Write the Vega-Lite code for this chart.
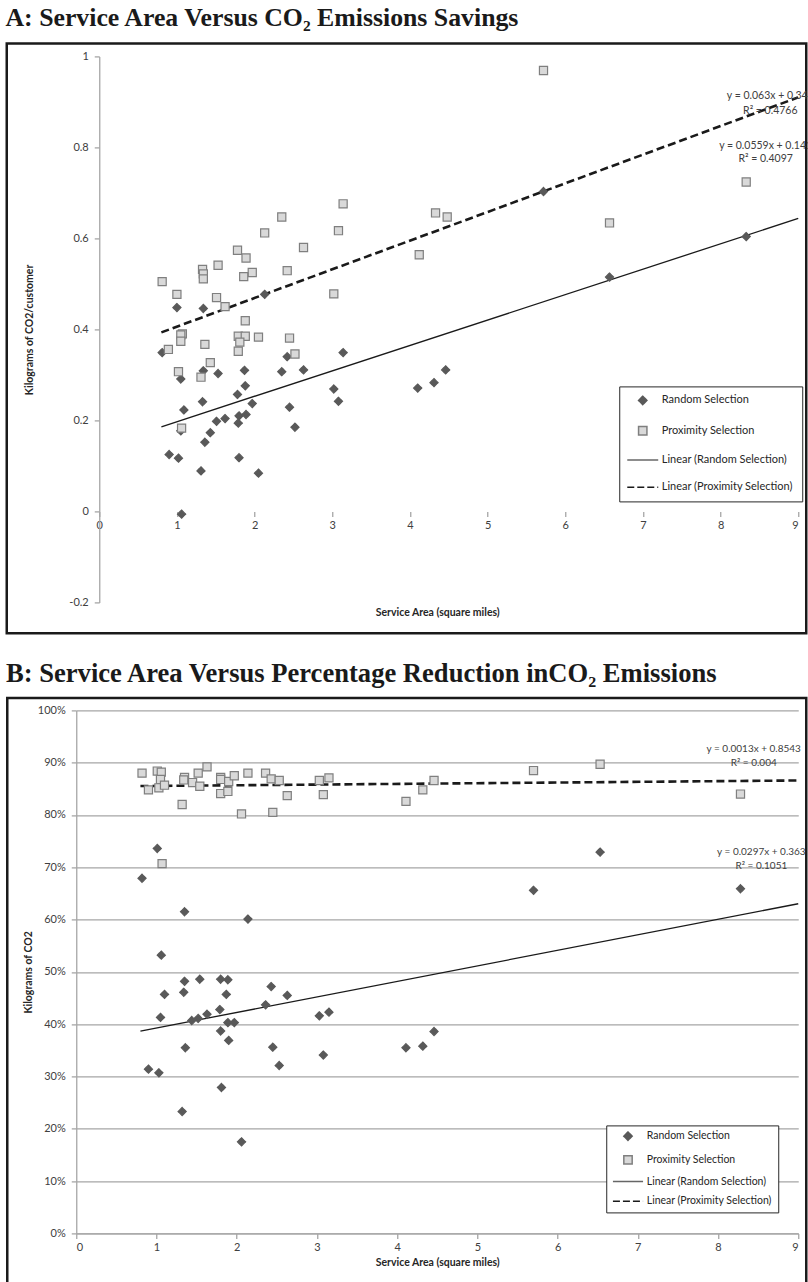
{
  "$schema": "https://vega.github.io/schema/vega-lite/v6.json",
  "background": "white",
  "padding": {"left": 5.25, "top": 4.4, "right": 0, "bottom": 0},
  "columns": 1,
  "align": "none",
  "spacing": 25,
  "config": {
    "view": {"stroke": null},
    "font": "Lato",
    "axis": {"labelFont": "Lato", "labelColor": "#404040", "labelFontSize": 11, "titleFont": "Lato", "titleColor": "#262626", "titleFontWeight": "bold", "titleFontSize": 10.5, "gridColor": "#a6a6a6", "gridWidth": 1.3, "domainColor": "#a6a6a6", "domainWidth": 1.3, "tickColor": "#a6a6a6", "tickWidth": 1.3, "tickSize": 5},
    "legend": {"labelFont": "Lato", "labelColor": "#262626", "strokeColor": "#262626", "fillColor": "white"}
  },
  "resolve": {
    "scale": {"shape": "independent", "fill": "independent", "stroke": "independent", "strokeDash": "independent"},
    "legend": {"shape": "independent", "fill": "independent", "stroke": "independent", "strokeDash": "independent"}
  },
  "datasets": {
    "gridA": [{"y": -0.2}, {"y": 0}, {"y": 0.2}, {"y": 0.4}, {"y": 0.6}, {"y": 0.8}, {"y": 1}],
    "ptsA": [
      {"x": 1.00, "y": 0.448, "series": "Random Selection"}, {"x": 1.34, "y": 0.446, "series": "Random Selection"}, {"x": 2.13, "y": 0.477, "series": "Random Selection"}, {"x": 3.14, "y": 0.349, "series": "Random Selection"}, {"x": 0.81, "y": 0.349, "series": "Random Selection"}, {"x": 2.42, "y": 0.340, "series": "Random Selection"}, {"x": 1.87, "y": 0.310, "series": "Random Selection"}, {"x": 1.34, "y": 0.309, "series": "Random Selection"}, {"x": 1.53, "y": 0.303, "series": "Random Selection"}, {"x": 2.35, "y": 0.307, "series": "Random Selection"}, {"x": 2.63, "y": 0.311, "series": "Random Selection"}, {"x": 1.05, "y": 0.291, "series": "Random Selection"}, {"x": 1.88, "y": 0.276, "series": "Random Selection"}, {"x": 1.78, "y": 0.257, "series": "Random Selection"}, {"x": 3.02, "y": 0.269, "series": "Random Selection"}, {"x": 3.08, "y": 0.242, "series": "Random Selection"}, {"x": 1.33, "y": 0.241, "series": "Random Selection"}, {"x": 1.97, "y": 0.237, "series": "Random Selection"}, {"x": 1.09, "y": 0.223, "series": "Random Selection"}, {"x": 2.45, "y": 0.229, "series": "Random Selection"}, {"x": 1.80, "y": 0.210, "series": "Random Selection"}, {"x": 1.89, "y": 0.213, "series": "Random Selection"}, {"x": 1.51, "y": 0.198, "series": "Random Selection"}, {"x": 1.62, "y": 0.204, "series": "Random Selection"}, {"x": 1.79, "y": 0.194, "series": "Random Selection"}, {"x": 2.52, "y": 0.185, "series": "Random Selection"}, {"x": 1.05, "y": 0.177, "series": "Random Selection"}, {"x": 1.43, "y": 0.173, "series": "Random Selection"}, {"x": 1.36, "y": 0.152, "series": "Random Selection"}, {"x": 0.90, "y": 0.125, "series": "Random Selection"}, {"x": 1.02, "y": 0.117, "series": "Random Selection"}, {"x": 1.80, "y": 0.118, "series": "Random Selection"}, {"x": 1.31, "y": 0.089, "series": "Random Selection"}, {"x": 2.05, "y": 0.084, "series": "Random Selection"}, {"x": 1.06, "y": -0.006, "series": "Random Selection"}, {"x": 4.10, "y": 0.271, "series": "Random Selection"}, {"x": 4.31, "y": 0.283, "series": "Random Selection"}, {"x": 4.46, "y": 0.311, "series": "Random Selection"}, {"x": 5.72, "y": 0.703, "series": "Random Selection"}, {"x": 6.57, "y": 0.515, "series": "Random Selection"}, {"x": 8.33, "y": 0.604, "series": "Random Selection"},
      {"x": 3.14, "y": 0.676, "series": "Proximity Selection"}, {"x": 2.35, "y": 0.647, "series": "Proximity Selection"}, {"x": 2.13, "y": 0.612, "series": "Proximity Selection"}, {"x": 3.08, "y": 0.617, "series": "Proximity Selection"}, {"x": 2.63, "y": 0.580, "series": "Proximity Selection"}, {"x": 1.78, "y": 0.574, "series": "Proximity Selection"}, {"x": 1.89, "y": 0.557, "series": "Proximity Selection"}, {"x": 1.53, "y": 0.541, "series": "Proximity Selection"}, {"x": 1.33, "y": 0.532, "series": "Proximity Selection"}, {"x": 1.34, "y": 0.522, "series": "Proximity Selection"}, {"x": 1.34, "y": 0.511, "series": "Proximity Selection"}, {"x": 1.97, "y": 0.525, "series": "Proximity Selection"}, {"x": 1.86, "y": 0.516, "series": "Proximity Selection"}, {"x": 2.42, "y": 0.529, "series": "Proximity Selection"}, {"x": 0.81, "y": 0.505, "series": "Proximity Selection"}, {"x": 1.00, "y": 0.477, "series": "Proximity Selection"}, {"x": 1.51, "y": 0.470, "series": "Proximity Selection"}, {"x": 1.62, "y": 0.450, "series": "Proximity Selection"}, {"x": 3.02, "y": 0.478, "series": "Proximity Selection"}, {"x": 1.88, "y": 0.419, "series": "Proximity Selection"}, {"x": 1.07, "y": 0.390, "series": "Proximity Selection"}, {"x": 1.05, "y": 0.388, "series": "Proximity Selection"}, {"x": 1.05, "y": 0.374, "series": "Proximity Selection"}, {"x": 1.79, "y": 0.385, "series": "Proximity Selection"}, {"x": 1.88, "y": 0.385, "series": "Proximity Selection"}, {"x": 1.81, "y": 0.372, "series": "Proximity Selection"}, {"x": 2.05, "y": 0.383, "series": "Proximity Selection"}, {"x": 2.45, "y": 0.381, "series": "Proximity Selection"}, {"x": 0.89, "y": 0.356, "series": "Proximity Selection"}, {"x": 1.36, "y": 0.367, "series": "Proximity Selection"}, {"x": 1.79, "y": 0.352, "series": "Proximity Selection"}, {"x": 2.52, "y": 0.346, "series": "Proximity Selection"}, {"x": 1.43, "y": 0.327, "series": "Proximity Selection"}, {"x": 1.02, "y": 0.307, "series": "Proximity Selection"}, {"x": 1.31, "y": 0.295, "series": "Proximity Selection"}, {"x": 1.06, "y": 0.183, "series": "Proximity Selection"}, {"x": 5.72, "y": 0.969, "series": "Proximity Selection"}, {"x": 4.33, "y": 0.656, "series": "Proximity Selection"}, {"x": 4.48, "y": 0.647, "series": "Proximity Selection"}, {"x": 4.12, "y": 0.564, "series": "Proximity Selection"}, {"x": 6.57, "y": 0.634, "series": "Proximity Selection"}, {"x": 8.33, "y": 0.724, "series": "Proximity Selection"}
    ],
    "trendA": [
      {"x": 0.8, "y": 0.186, "series": "Linear (Random Selection)"}, {"x": 9, "y": 0.644, "series": "Linear (Random Selection)"},
      {"x": 0.8, "y": 0.3934, "series": "Linear (Proximity Selection)"}, {"x": 9, "y": 0.910, "series": "Linear (Proximity Selection)"}
    ],
    "eqA": [
      {"x": 8.64, "y": 0.914, "label": "y = 0.063x + 0.343"}, {"x": 8.64, "y": 0.881, "label": "R² = 0.4766"},
      {"x": 8.58, "y": 0.804, "label": "y = 0.0559x + 0.141"}, {"x": 8.58, "y": 0.774, "label": "R² = 0.4097"}
    ],
    "frameA": [{"x": -1.191, "x2": 9.103, "y": -0.268, "y2": 1.0286}],
    "ptsB": [
      {"x": 0.82, "y": 0.679, "series": "Random Selection"}, {"x": 1.01, "y": 0.736, "series": "Random Selection"}, {"x": 1.35, "y": 0.615, "series": "Random Selection"}, {"x": 2.14, "y": 0.601, "series": "Random Selection"}, {"x": 1.06, "y": 0.532, "series": "Random Selection"}, {"x": 1.05, "y": 0.413, "series": "Random Selection"}, {"x": 1.10, "y": 0.457, "series": "Random Selection"}, {"x": 0.90, "y": 0.314, "series": "Random Selection"}, {"x": 1.03, "y": 0.307, "series": "Random Selection"}, {"x": 1.35, "y": 0.482, "series": "Random Selection"}, {"x": 1.34, "y": 0.461, "series": "Random Selection"}, {"x": 1.36, "y": 0.355, "series": "Random Selection"}, {"x": 1.32, "y": 0.233, "series": "Random Selection"}, {"x": 1.54, "y": 0.486, "series": "Random Selection"}, {"x": 1.44, "y": 0.407, "series": "Random Selection"}, {"x": 1.52, "y": 0.411, "series": "Random Selection"}, {"x": 1.63, "y": 0.419, "series": "Random Selection"}, {"x": 1.80, "y": 0.486, "series": "Random Selection"}, {"x": 1.89, "y": 0.485, "series": "Random Selection"}, {"x": 1.87, "y": 0.457, "series": "Random Selection"}, {"x": 1.79, "y": 0.428, "series": "Random Selection"}, {"x": 1.80, "y": 0.387, "series": "Random Selection"}, {"x": 1.89, "y": 0.403, "series": "Random Selection"}, {"x": 1.97, "y": 0.403, "series": "Random Selection"}, {"x": 1.90, "y": 0.369, "series": "Random Selection"}, {"x": 1.81, "y": 0.279, "series": "Random Selection"}, {"x": 2.06, "y": 0.175, "series": "Random Selection"}, {"x": 2.36, "y": 0.437, "series": "Random Selection"}, {"x": 2.43, "y": 0.472, "series": "Random Selection"}, {"x": 2.45, "y": 0.356, "series": "Random Selection"}, {"x": 2.53, "y": 0.321, "series": "Random Selection"}, {"x": 2.63, "y": 0.455, "series": "Random Selection"}, {"x": 3.03, "y": 0.416, "series": "Random Selection"}, {"x": 3.15, "y": 0.423, "series": "Random Selection"}, {"x": 3.08, "y": 0.341, "series": "Random Selection"}, {"x": 4.11, "y": 0.355, "series": "Random Selection"}, {"x": 4.32, "y": 0.358, "series": "Random Selection"}, {"x": 4.46, "y": 0.386, "series": "Random Selection"}, {"x": 5.70, "y": 0.656, "series": "Random Selection"}, {"x": 6.53, "y": 0.729, "series": "Random Selection"}, {"x": 8.28, "y": 0.659, "series": "Random Selection"},
      {"x": 0.82, "y": 0.880, "series": "Proximity Selection"}, {"x": 0.90, "y": 0.848, "series": "Proximity Selection"}, {"x": 1.01, "y": 0.884, "series": "Proximity Selection"}, {"x": 1.06, "y": 0.882, "series": "Proximity Selection"}, {"x": 1.05, "y": 0.868, "series": "Proximity Selection"}, {"x": 1.03, "y": 0.852, "series": "Proximity Selection"}, {"x": 1.10, "y": 0.857, "series": "Proximity Selection"}, {"x": 1.07, "y": 0.707, "series": "Proximity Selection"}, {"x": 1.32, "y": 0.820, "series": "Proximity Selection"}, {"x": 1.35, "y": 0.872, "series": "Proximity Selection"}, {"x": 1.34, "y": 0.867, "series": "Proximity Selection"}, {"x": 1.45, "y": 0.862, "series": "Proximity Selection"}, {"x": 1.52, "y": 0.880, "series": "Proximity Selection"}, {"x": 1.54, "y": 0.855, "series": "Proximity Selection"}, {"x": 1.63, "y": 0.892, "series": "Proximity Selection"}, {"x": 1.80, "y": 0.872, "series": "Proximity Selection"}, {"x": 1.80, "y": 0.868, "series": "Proximity Selection"}, {"x": 1.80, "y": 0.841, "series": "Proximity Selection"}, {"x": 1.90, "y": 0.864, "series": "Proximity Selection"}, {"x": 1.89, "y": 0.845, "series": "Proximity Selection"}, {"x": 1.97, "y": 0.875, "series": "Proximity Selection"}, {"x": 2.06, "y": 0.802, "series": "Proximity Selection"}, {"x": 2.14, "y": 0.880, "series": "Proximity Selection"}, {"x": 2.36, "y": 0.880, "series": "Proximity Selection"}, {"x": 2.43, "y": 0.869, "series": "Proximity Selection"}, {"x": 2.53, "y": 0.866, "series": "Proximity Selection"}, {"x": 2.45, "y": 0.805, "series": "Proximity Selection"}, {"x": 2.63, "y": 0.837, "series": "Proximity Selection"}, {"x": 3.03, "y": 0.866, "series": "Proximity Selection"}, {"x": 3.15, "y": 0.871, "series": "Proximity Selection"}, {"x": 3.08, "y": 0.839, "series": "Proximity Selection"}, {"x": 4.11, "y": 0.826, "series": "Proximity Selection"}, {"x": 4.32, "y": 0.848, "series": "Proximity Selection"}, {"x": 4.46, "y": 0.866, "series": "Proximity Selection"}, {"x": 5.70, "y": 0.885, "series": "Proximity Selection"}, {"x": 6.53, "y": 0.897, "series": "Proximity Selection"}, {"x": 8.28, "y": 0.840, "series": "Proximity Selection"}
    ],
    "trendB": [
      {"x": 0.8, "y": 0.3868, "series": "Linear (Random Selection)"}, {"x": 9, "y": 0.6303, "series": "Linear (Random Selection)"},
      {"x": 0.8, "y": 0.8553, "series": "Linear (Proximity Selection)"}, {"x": 9, "y": 0.8660, "series": "Linear (Proximity Selection)"}
    ],
    "eqB": [
      {"x": 8.445, "y": 0.927, "label": "y = 0.0013x + 0.8543"}, {"x": 8.445, "y": 0.899, "label": "R² = 0.004"},
      {"x": 8.54, "y": 0.7285, "label": "y = 0.0297x + 0.363"}, {"x": 8.54, "y": 0.7017, "label": "R² = 0.1051"}
    ],
    "frameB": [{"x": -0.860, "x2": 9.10, "y": -0.0956, "y2": 1.0239}]
  },
  "concat": [
    {
      "width": 722,
      "height": 546,
      "title": {"text": "A: Service Area Versus CO₂ Emissions Savings", "anchor": "start", "frame": "bounds", "font": "Liberation Serif", "fontSize": 25.8, "fontWeight": "bold", "color": "#1a1a1a", "baseline": "alphabetic", "offset": -10},
      "encoding": {
        "x": {"field": "x", "type": "quantitative", "scale": {"domain": [-0.2961, 9], "nice": false, "zero": false},
          "axis": {"title": "Service Area (square miles)", "values": [0, 1, 2, 3, 4, 5, 6, 7, 8, 9], "offset": -91, "grid": false, "domain": false, "labelPadding": 3, "titleY": 101, "titleBaseline": "middle"}},
        "y": {"field": "y", "type": "quantitative", "scale": {"domain": [-0.2, 1], "nice": false, "zero": false},
          "axis": {"title": "Kilograms of CO2/customer", "values": [-0.2, 0, 0.2, 0.4, 0.6, 0.8, 1], "labelExpr": "toString(round(datum.value*10)/10)", "grid": false, "offset": -23, "labelPadding": 6, "titleX": -70, "titleBaseline": "middle"}}
      },
      "layer": [
        {
          "data": {"name": "frameA"},
          "mark": {"type": "rect", "fill": "transparent", "stroke": "#1a1a1a", "strokeWidth": 2.5},
          "encoding": {"x2": {"field": "x2"}, "y2": {"field": "y2"}}
        },
        {
          "data": {"name": "gridA"},
          "mark": {"type": "rule", "color": "#a6a6a6", "strokeWidth": 1.3},
          "encoding": {"x": {"datum": 0}, "x2": {"datum": 9}}
        },
        {
          "data": {"name": "trendA"},
          "transform": [{"filter": "datum.series === 'Linear (Random Selection)'"}],
          "mark": {"type": "line", "stroke": "#1a1a1a", "strokeWidth": 1.3},
          "encoding": {}
        },
        {
          "data": {"name": "trendA"},
          "transform": [{"filter": "datum.series === 'Linear (Proximity Selection)'"}],
          "mark": {"type": "line", "stroke": "#1a1a1a", "strokeWidth": 2.6, "strokeDash": [8, 4]},
          "encoding": {}
        },
        {
          "data": {"name": "ptsA"},
          "mark": {"type": "point", "filled": true, "size": 66, "strokeWidth": 1.2, "opacity": 1},
          "encoding": {
            "shape": {"field": "series", "type": "nominal", "scale": {"domain": ["Random Selection", "Proximity Selection", "Linear (Random Selection)", "Linear (Proximity Selection)"], "range": ["diamond", "square", "M-3.7,0H3.7", "M-3.7,0H3.7"]},
              "legend": {"orient": "none", "legendX": 543, "legendY": 330, "title": null, "padding": 8.5, "rowPadding": 15.3, "symbolSize": 70, "symbolStrokeWidth": 1.5, "symbolOffset": 9.5, "labelOffset": 13.5, "labelFontSize": 11}},
            "fill": {"field": "series", "type": "nominal", "scale": {"domain": ["Random Selection", "Proximity Selection", "Linear (Random Selection)", "Linear (Proximity Selection)"], "range": ["#595959", "#d9d9d9", "transparent", "transparent"]},
              "legend": {"orient": "none", "legendX": 543, "legendY": 330, "title": null, "padding": 8.5, "rowPadding": 15.3, "symbolSize": 70, "symbolStrokeWidth": 1.5, "symbolOffset": 9.5, "labelOffset": 13.5, "labelFontSize": 11}},
            "stroke": {"field": "series", "type": "nominal", "scale": {"domain": ["Random Selection", "Proximity Selection", "Linear (Random Selection)", "Linear (Proximity Selection)"], "range": ["#595959", "#7f7f7f", "#666666", "#1a1a1a"]},
              "legend": {"orient": "none", "legendX": 543, "legendY": 330, "title": null, "padding": 8.5, "rowPadding": 15.3, "symbolSize": 70, "symbolStrokeWidth": 1.5, "symbolOffset": 9.5, "labelOffset": 13.5, "labelFontSize": 11}},
            "strokeDash": {"field": "series", "type": "nominal", "scale": {"domain": ["Random Selection", "Proximity Selection", "Linear (Random Selection)", "Linear (Proximity Selection)"], "range": [[1, 0], [1, 0], [1, 0], [7, 3]]},
              "legend": {"orient": "none", "legendX": 543, "legendY": 330, "title": null, "padding": 8.5, "rowPadding": 15.3, "symbolSize": 70, "symbolStrokeWidth": 1.5, "symbolOffset": 9.5, "labelOffset": 13.5, "labelFontSize": 11}}
          }
        },
        {
          "data": {"name": "eqA"},
          "mark": {"type": "text", "font": "Lato", "fontSize": 10.5, "color": "#404040", "align": "center", "baseline": "middle"},
          "encoding": {"text": {"field": "label"}}
        }
      ]
    },
    {
      "width": 722,
      "height": 523,
      "title": {"text": "B: Service Area Versus Percentage Reduction inCO₂ Emissions", "anchor": "start", "frame": "bounds", "font": "Liberation Serif", "fontSize": 26.6, "fontWeight": "bold", "color": "#1a1a1a", "baseline": "alphabetic", "offset": -12},
      "encoding": {
        "x": {"field": "x", "type": "quantitative", "scale": {"domain": [0, 9], "nice": false, "zero": false},
          "axis": {"title": "Service Area (square miles)", "values": [0, 1, 2, 3, 4, 5, 6, 7, 8, 9], "grid": false, "labelPadding": 3, "titlePadding": 5}},
        "y": {"field": "y", "type": "quantitative", "scale": {"domain": [0, 1], "nice": false, "zero": false},
          "axis": {"title": "Kilograms of CO2", "values": [0, 0.1, 0.2, 0.3, 0.4, 0.5, 0.6, 0.7, 0.8, 0.9, 1], "format": ".0%", "grid": true, "labelPadding": 6, "titleX": -48, "titleBaseline": "middle"}}
      },
      "layer": [
        {
          "data": {"name": "frameB"},
          "mark": {"type": "rect", "fill": "transparent", "stroke": "#1a1a1a", "strokeWidth": 2.5},
          "encoding": {"x2": {"field": "x2"}, "y2": {"field": "y2"}}
        },
        {
          "data": {"name": "trendB"},
          "transform": [{"filter": "datum.series === 'Linear (Random Selection)'"}],
          "mark": {"type": "line", "stroke": "#1a1a1a", "strokeWidth": 1.3},
          "encoding": {}
        },
        {
          "data": {"name": "trendB"},
          "transform": [{"filter": "datum.series === 'Linear (Proximity Selection)'"}],
          "mark": {"type": "line", "stroke": "#1a1a1a", "strokeWidth": 2.6, "strokeDash": [8, 4]},
          "encoding": {}
        },
        {
          "data": {"name": "ptsB"},
          "mark": {"type": "point", "filled": true, "size": 66, "strokeWidth": 1.2, "opacity": 1},
          "encoding": {
            "shape": {"field": "series", "type": "nominal", "scale": {"domain": ["Random Selection", "Proximity Selection", "Linear (Random Selection)", "Linear (Proximity Selection)"], "range": ["diamond", "square", "M-3.6,0H3.6", "M-3.6,0H3.6"]},
              "legend": {"orient": "none", "legendX": 530, "legendY": 415, "title": null, "padding": 5.5, "rowPadding": 8.7, "symbolSize": 70, "symbolStrokeWidth": 1.5, "symbolOffset": 11, "labelOffset": 13.5, "labelFontSize": 10.5}},
            "fill": {"field": "series", "type": "nominal", "scale": {"domain": ["Random Selection", "Proximity Selection", "Linear (Random Selection)", "Linear (Proximity Selection)"], "range": ["#595959", "#d9d9d9", "transparent", "transparent"]},
              "legend": {"orient": "none", "legendX": 530, "legendY": 415, "title": null, "padding": 5.5, "rowPadding": 8.7, "symbolSize": 70, "symbolStrokeWidth": 1.5, "symbolOffset": 11, "labelOffset": 13.5, "labelFontSize": 10.5}},
            "stroke": {"field": "series", "type": "nominal", "scale": {"domain": ["Random Selection", "Proximity Selection", "Linear (Random Selection)", "Linear (Proximity Selection)"], "range": ["#595959", "#7f7f7f", "#666666", "#1a1a1a"]},
              "legend": {"orient": "none", "legendX": 530, "legendY": 415, "title": null, "padding": 5.5, "rowPadding": 8.7, "symbolSize": 70, "symbolStrokeWidth": 1.5, "symbolOffset": 11, "labelOffset": 13.5, "labelFontSize": 10.5}},
            "strokeDash": {"field": "series", "type": "nominal", "scale": {"domain": ["Random Selection", "Proximity Selection", "Linear (Random Selection)", "Linear (Proximity Selection)"], "range": [[1, 0], [1, 0], [1, 0], [7, 3]]},
              "legend": {"orient": "none", "legendX": 530, "legendY": 415, "title": null, "padding": 5.5, "rowPadding": 8.7, "symbolSize": 70, "symbolStrokeWidth": 1.5, "symbolOffset": 11, "labelOffset": 13.5, "labelFontSize": 10.5}}
          }
        },
        {
          "data": {"name": "eqB"},
          "mark": {"type": "text", "font": "Lato", "fontSize": 10, "color": "#404040", "align": "center", "baseline": "middle"},
          "encoding": {"text": {"field": "label"}}
        }
      ]
    }
  ]
}
